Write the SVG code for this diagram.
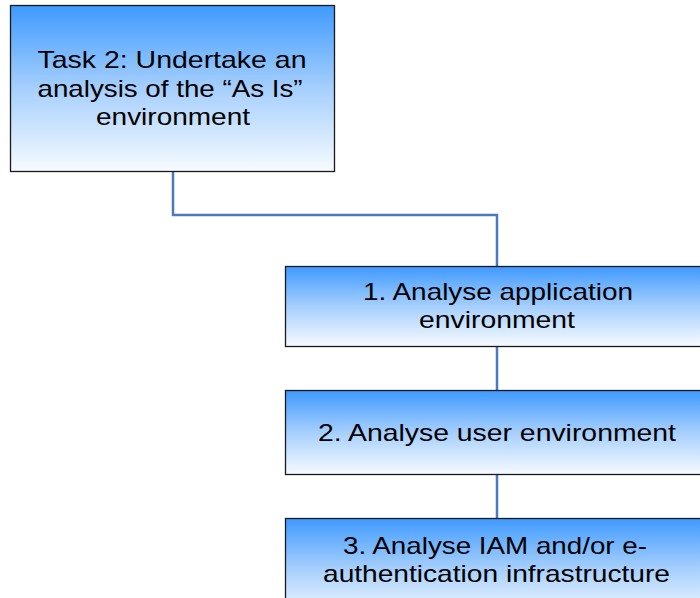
<svg xmlns="http://www.w3.org/2000/svg" width="700" height="598" viewBox="0 0 700 598">
<defs>
<linearGradient id="g" x1="0" y1="0" x2="0" y2="1">
<stop offset="0" stop-color="#3f9aff"/>
<stop offset="0.5" stop-color="#a6cffd"/>
<stop offset="1" stop-color="#f7fbff"/>
</linearGradient>
</defs>
<style>
.box{fill:url(#g);stroke:#1a1a1a;stroke-width:1.3}
.t{font-family:"Liberation Sans",Arial,sans-serif;font-size:24px;fill:#000;text-anchor:middle}
.c{fill:none;stroke:#4a78c2;stroke-width:2.5}
</style>
<rect width="700" height="598" fill="#fff"/>
<g id="connectors">
<polyline class="c" points="173,172 173,215 497,215 497,266"/>
<line class="c" x1="497" y1="347" x2="497" y2="390"/>
<line class="c" x1="497" y1="474" x2="497" y2="518"/>
</g>
<g id="task2">
<rect class="box" x="10.5" y="5.5" width="324" height="166"/>
<text class="t" x="172" y="68" textLength="269" lengthAdjust="spacingAndGlyphs">Task 2: Undertake an</text>
<text class="t" x="170" y="97" textLength="265" lengthAdjust="spacingAndGlyphs">analysis of the “As Is”</text>
<text class="t" x="173" y="125" textLength="154" lengthAdjust="spacingAndGlyphs">environment</text>
</g>
<g id="step1">
<rect class="box" x="285.5" y="266.5" width="430" height="80"/>
<text class="t" x="498" y="300" textLength="270" lengthAdjust="spacingAndGlyphs">1. Analyse application</text>
<text class="t" x="497" y="328" textLength="156" lengthAdjust="spacingAndGlyphs">environment</text>
</g>
<g id="step2">
<rect class="box" x="285.5" y="390.5" width="430" height="84"/>
<text class="t" x="497" y="441" textLength="358" lengthAdjust="spacingAndGlyphs">2. Analyse user environment</text>
</g>
<g id="step3">
<rect class="box" x="285.5" y="518.5" width="430" height="100"/>
<text class="t" x="495" y="554" textLength="304" lengthAdjust="spacingAndGlyphs">3. Analyse IAM and/or e-</text>
<text class="t" x="496.5" y="582" textLength="347" lengthAdjust="spacingAndGlyphs">authentication infrastructure</text>
</g>
</svg>
